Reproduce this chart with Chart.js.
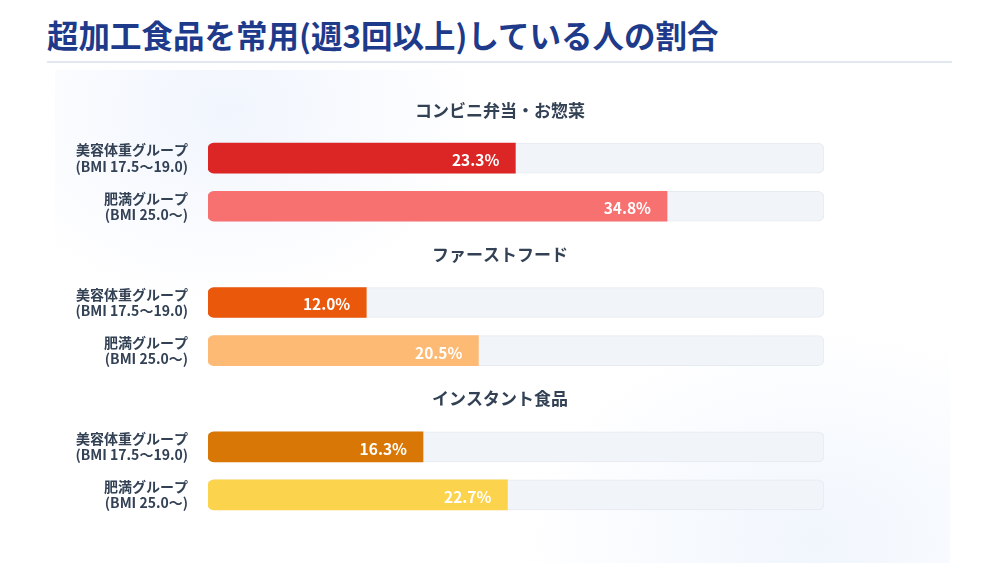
<!DOCTYPE html>
<html lang="ja">
<head>
<meta charset="utf-8">
<script src="https://cdn.jsdelivr.net/npm/chart.js@4.4.1/dist/chart.umd.min.js"></script>
<style>
html, body { margin: 0; padding: 0; }
body {
  width: 1000px; height: 563px; overflow: hidden; position: relative;
  background: #ffffff;
  font-family: "Noto Sans CJK JP", "Noto Sans", sans-serif;
}
.panel {
  position: absolute; left: 55px; top: 70px; width: 895px; height: 493px;
  background:
    radial-gradient(ellipse 260px 200px at 170px 40px, rgba(219,230,250,0.4), rgba(255,255,255,0) 100%),
    radial-gradient(ellipse 300px 220px at 760px 470px, rgba(219,232,250,0.4), rgba(255,255,255,0) 100%);
}
h1 {
  position: absolute; left: 47px; top: 15px; margin: 0;
  font-size: 31.5px; line-height: 38px; font-weight: 700; color: #1e3a8a;
}
.rule { position: absolute; left: 47px; top: 61px; width: 905px; height: 2px; background: #e3e8f0; }
canvas { position: absolute; left: 0; top: 0; }
</style>
</head>
<body>
<div class="panel"></div>
<h1>超加工食品を常用(週3回以上)している人の割合</h1>
<div class="rule"></div>
<canvas id="chart" width="1000" height="563"></canvas>
<script>
// data
var categories = ['コンビニ弁当・お惣菜', 'ファーストフード', 'インスタント食品'];
var groupLabels = [['美容体重グループ', '(BMI 17.5〜19.0)'], ['肥満グループ', '(BMI 25.0〜)']];
var slimValues = [23.3, 12.0, 16.3];
var obeseValues = [34.8, 20.5, 22.7];
var slimColors = ['#dc2626', '#ea580c', '#d97706'];
var obeseColors = ['#f87171', '#fdba74', '#fcd34d'];
var axisMax = 46.7;

// one header row + two bar rows per category
var rowLabels = [], rowValues = [], rowTrack = [], rowColors = [], headers = {};
categories.forEach(function(cat, i){
  headers[rowLabels.length] = cat;
  rowLabels.push(''); rowValues.push(null); rowTrack.push(null); rowColors.push('transparent');
  rowLabels.push(groupLabels[0]); rowValues.push(slimValues[i]); rowTrack.push(axisMax); rowColors.push(slimColors[i]);
  rowLabels.push(groupLabels[1]); rowValues.push(obeseValues[i]); rowTrack.push(axisMax); rowColors.push(obeseColors[i]);
});

var headerPlugin = {
  id: 'headers',
  afterDraw: function(chart){
    var ctx = chart.ctx, y = chart.scales.y;
    ctx.save();
    ctx.font = '700 17px "Noto Sans CJK JP"';
    ctx.fillStyle = '#334155';
    ctx.textAlign = 'center';
    ctx.textBaseline = 'middle';
    Object.keys(headers).forEach(function(idx){
      ctx.fillText(headers[idx], chart.width / 2, y.getPixelForValue(+idx));
    });
    ctx.restore();
  }
};

var valuePlugin = {
  id: 'values',
  afterDatasetsDraw: function(chart){
    var ctx = chart.ctx;
    var meta = chart.getDatasetMeta(1);
    ctx.save();
    ctx.font = '700 15.5px "Noto Sans CJK JP"';
    ctx.fillStyle = '#ffffff';
    ctx.textAlign = 'right';
    ctx.textBaseline = 'middle';
    meta.data.forEach(function(bar, i){
      var v = rowValues[i];
      if (v == null) return;
      ctx.fillText(v.toFixed(1) + '%', bar.x - 16, bar.y + 2);
    });
    ctx.restore();
  }
};

var ctx = document.getElementById('chart').getContext('2d');
var chart = new Chart(ctx, {
  type: 'bar',
  data: {
    labels: rowLabels,
    datasets: [{
      // background track
      data: rowTrack,
      backgroundColor: '#f1f4f8',
      borderColor: '#e6eaf1',
      borderWidth: 1,
      borderRadius: 6,
      borderSkipped: false,
      barThickness: 30,
      grouped: false,
      order: 2
    }, {
      data: rowValues,
      backgroundColor: rowColors,
      borderWidth: 0,
      borderRadius: { topLeft: 6, bottomLeft: 6, topRight: 0, bottomRight: 0 },
      borderSkipped: false,
      barThickness: 30,
      grouped: false,
      order: 1
    }]
  },
  options: {
    indexAxis: 'y',
    responsive: false,
    animation: false,
    layout: { padding: { left: 0, right: 176, top: 86, bottom: 44 } },
    plugins: { legend: { display: false }, tooltip: { enabled: false } },
    scales: {
      x: { min: 0, max: axisMax, display: false },
      y: {
        grid: { display: false },
        border: { display: false },
        afterFit: function(scale){ scale.width = 208; },
        ticks: {
          padding: 12,
          color: '#334155',
          font: { family: '"Noto Sans CJK JP"', size: 14, weight: '700', lineHeight: 1.15 }
        }
      }
    }
  },
  plugins: [headerPlugin, valuePlugin]
});
</script>
</body>
</html>
